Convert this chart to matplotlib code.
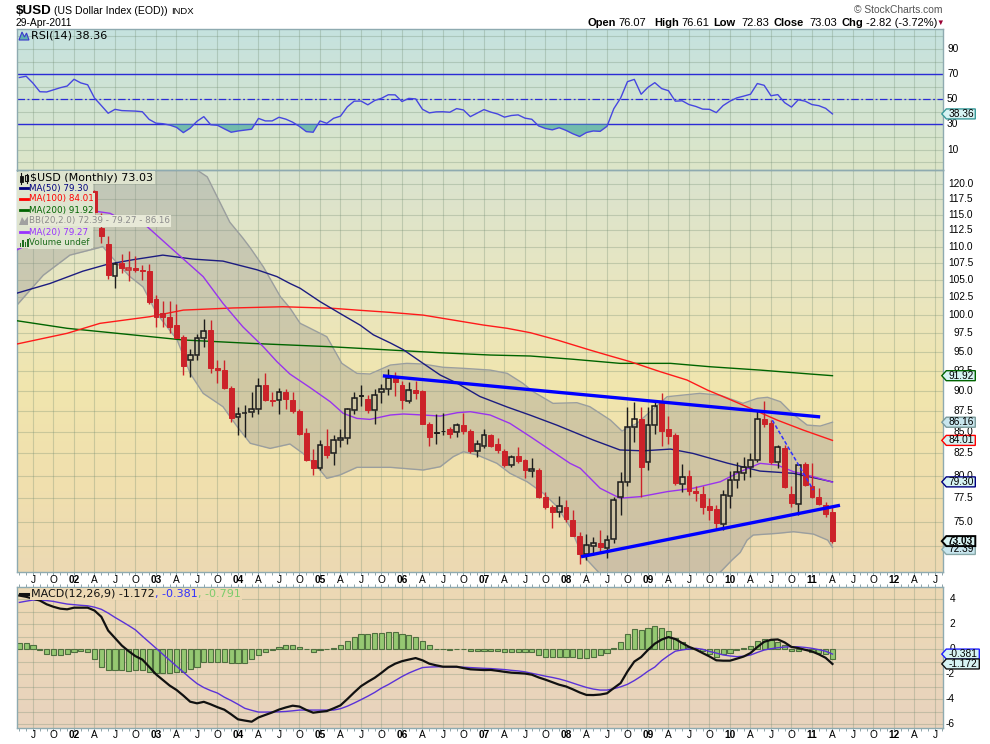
import numpy as np
import pandas as pd
import matplotlib
matplotlib.use("Agg")
import matplotlib.pyplot as plt
from matplotlib.patches import Rectangle, Polygon
from matplotlib.lines import Line2D
from matplotlib.transforms import IdentityTransform
from matplotlib.colors import to_rgb
from matplotlib.ticker import NullLocator, FixedLocator

# ---------------- data (monthly, May 2001 .. Apr 2011) ----------------
months = pd.period_range("2001-05", "2011-04", freq="M")

opens = [115.6, 119.1, 120.4, 117.5, 114.0, 113.6, 115.7, 116.4, 116.8, 120.2,
         119.7, 118.9, 112.9, 110.4, 105.6, 107.5, 106.5, 106.7, 106.4, 106.3,
         102.3, 100.3, 99.8, 98.6, 97.0, 94.0, 94.6, 96.8, 97.9, 92.9,
         92.7, 90.3, 86.8, 87.25, 87.4, 87.7, 90.7, 88.9, 88.9, 89.9,
         88.9, 87.5, 84.9, 81.7, 80.9, 83.4, 82.5, 84.0, 84.3, 87.6,
         89.5, 89.0, 87.6, 89.9, 90.2, 91.9, 90.8, 88.8, 90.1, 90.0,
         85.9, 85.0, 85.15, 85.3, 85.0, 85.8, 85.1, 82.8, 83.4, 84.6,
         83.6, 82.8, 81.2, 82.2, 81.7, 80.5, 80.6, 77.7, 76.6, 76.0,
         76.6, 75.2, 73.6, 71.7, 72.5, 72.8, 72.3, 73.2, 77.6, 79.3,
         85.6, 86.6, 81.5, 85.8, 88.6, 85.4, 84.6, 79.1, 79.9, 78.3,
         78.0, 76.7, 76.4, 74.8, 77.8, 79.5, 80.3, 81.0, 81.8, 86.5,
         86.1, 81.5, 83.1, 78.0, 76.9, 81.3, 78.9, 77.6, 76.8, 76.07]
highs = [119.5, 120.8, 121.0, 117.8, 115.4, 116.4, 117.4, 117.6, 120.5, 120.5,
         119.9, 119.0, 115.3, 111.6, 107.6, 108.8, 109.3, 108.5, 107.2, 107.3,
         102.8, 102.0, 102.0, 101.6, 97.3, 95.4, 97.4, 99.4, 99.3, 94.0,
         94.0, 90.6, 88.0, 88.2, 89.9, 91.6, 92.3, 89.8, 90.3, 90.2,
         89.8, 87.8, 85.5, 83.0, 84.0, 85.3, 84.7, 85.3, 87.9, 89.9,
         90.8, 89.5, 90.2, 90.9, 92.8, 92.4, 91.2, 91.1, 91.3, 90.1,
         86.2, 87.1, 87.3, 85.6, 86.1, 87.3, 85.4, 84.1, 85.4, 84.8,
         84.3, 83.0, 82.3, 83.2, 81.9, 82.0, 80.8, 78.2, 76.8, 77.8,
         77.3, 76.3, 74.0, 73.8, 73.4, 74.2, 73.7, 77.6, 80.4, 88.0,
         88.6, 88.0, 88.0, 88.7, 89.7, 86.9, 84.9, 81.3, 80.6, 78.8,
         78.8, 77.5, 76.8, 78.4, 80.5, 81.5, 82.1, 82.6, 87.5, 88.7,
         86.4, 83.5, 83.5, 78.8, 81.3, 81.5, 81.4, 78.6, 77.1, 76.61]
lows = [115.2, 117.9, 116.7, 113.1, 111.3, 112.9, 114.8, 114.9, 116.4, 118.3,
        117.7, 115.0, 110.6, 105.2, 103.8, 106.1, 104.9, 106.2, 105.0, 101.6,
        98.4, 98.3, 97.5, 96.8, 92.0, 91.7, 94.0, 95.6, 92.3, 91.0,
        90.2, 86.2, 84.6, 84.4, 86.8, 87.1, 88.7, 88.1, 87.1, 87.7,
        87.3, 84.6, 81.6, 80.1, 80.6, 82.0, 81.2, 83.2, 83.6, 87.1,
        88.1, 87.3, 86.0, 88.5, 89.5, 89.4, 87.7, 88.5, 89.0, 85.9,
        83.4, 83.6, 84.7, 84.3, 84.4, 84.8, 82.6, 82.1, 83.1, 83.2,
        82.6, 81.0, 81.0, 81.4, 79.7, 79.8, 77.5, 76.4, 74.4, 75.5,
        75.0, 73.5, 70.7, 71.1, 71.6, 71.9, 71.3, 72.8, 75.7, 78.9,
        83.8, 77.6, 80.6, 84.8, 83.4, 83.6, 79.0, 78.2, 77.9, 77.2,
        75.8, 75.2, 74.2, 74.2, 76.5, 78.6, 79.5, 79.8, 81.5, 85.6,
        81.3, 80.9, 78.6, 76.6, 75.7, 78.9, 77.5, 76.8, 75.5, 72.83]
closes = [119.1, 120.4, 117.5, 114.0, 113.6, 115.7, 116.4, 116.8, 120.2, 119.7,
          118.9, 115.4, 111.6, 105.8, 107.4, 106.8, 106.7, 106.4, 106.3, 101.8,
          99.8, 99.7, 98.4, 96.9, 93.2, 94.6, 96.8, 97.8, 92.9, 92.7,
          90.3, 86.7, 87.2, 87.3, 87.7, 90.6, 88.9, 88.7, 89.9, 89.0,
          87.5, 84.8, 81.7, 80.9, 83.5, 82.3, 84.0, 84.3, 87.8, 89.1,
          89.4, 87.6, 89.5, 90.2, 91.6, 91.1, 88.9, 90.1, 89.7, 86.0,
          84.4, 84.9, 85.1, 84.8, 85.8, 85.1, 82.8, 83.6, 84.6, 83.4,
          82.9, 81.2, 82.1, 81.6, 80.6, 80.7, 77.7, 76.6, 76.0, 76.7,
          75.3, 73.6, 71.7, 72.6, 72.8, 72.4, 73.1, 77.3, 79.3, 85.6,
          86.5, 81.0, 85.8, 88.1, 85.1, 84.5, 79.2, 79.8, 78.3, 78.1,
          76.6, 76.3, 74.9, 77.9, 79.5, 80.4, 81.0, 81.8, 86.6, 86.0,
          81.5, 83.2, 78.7, 77.0, 81.2, 79.0, 77.6, 76.9, 75.85, 73.03]

# overlays (month index, value)
ma50_m = [-0.35, 4.5, 9.3, 12.8, 16.6, 21.0, 25.4, 29.8, 34.8, 37.7, 39.6, 41.1, 44.0, 46.9, 49.9,
          51.8, 54.3, 56.2, 59.1, 61.6, 64.1, 67.4, 71.4, 74.8, 78.7, 84.0, 87.9, 91.3, 95.3, 98.6,
          103.6, 108.4, 113.3, 119.0]
ma50_v = [103.1, 104.5, 106.3, 107.3, 108.0, 108.7, 108.1, 107.8, 106.5, 105.5, 104.5, 103.8, 101.9,
          100.25, 98.6, 97.3, 96.2, 95.3, 93.5, 92.0, 90.95, 89.3, 88.0, 87.0, 85.8, 84.05, 82.9, 82.8,
          83.0, 82.5, 81.4, 80.5, 80.25, 79.30]
ma100_m = [-0.35, 7.0, 11.8, 19.1, 24.0, 31.3, 38.6, 45.9, 49.4, 54.3, 59.1, 64.1, 67.9, 71.4, 74.8,
           78.7, 83.5, 86.5, 89.4, 93.8, 97.7, 100.7, 103.6, 107.0, 110.9, 114.7, 119.0]
ma100_v = [96.06, 97.5, 98.86, 99.78, 100.7, 101.0, 101.17, 100.95, 100.7, 100.38, 100.0, 99.22, 98.63,
           98.18, 97.58, 96.6, 95.26, 94.47, 93.73, 92.43, 91.37, 90.1, 89.07, 87.84, 86.42, 85.23, 84.01]
ma200_m = [-0.35, 7.0, 14.3, 24.0, 33.8, 45.5, 54.3, 61.6, 68.9, 74.8, 81.1, 87.9, 95.3, 101.1, 108.4,
           115.8, 119.0]
ma200_v = [99.22, 98.18, 97.5, 96.6, 96.15, 95.7, 95.26, 94.9, 94.6, 94.47, 94.04, 93.51, 93.51, 93.07,
           92.64, 92.13, 91.92]
ma20_m = [-0.35, 11.4, 13.3, 15.2, 18.7, 22.5, 26.9, 29.8, 32.7, 35.7, 37.7, 39.6, 42.5, 45.5, 47.4,
          49.4, 51.3, 54.3, 56.2, 59.1, 61.6, 64.1, 66.0, 68.9, 71.8, 74.8, 77.7, 80.6, 82.1, 85.0,
          87.9, 90.9, 94.8, 98.6, 102.6, 105.5, 108.4, 110.9, 113.3, 116.2, 119.0]
ma20_v = [109.5, 115.5, 115.2, 114.1, 113.1, 109.5, 105.5, 101.65, 98.4, 95.7, 93.73, 92.13, 90.44,
          88.65, 87.23, 86.62, 86.5, 87.03, 87.15, 87.03, 86.9, 87.31, 87.43, 87.03, 86.02, 84.44, 82.89,
          81.37, 80.81, 78.6, 77.52, 77.69, 78.23, 78.6, 79.32, 80.43, 81.37, 81.18, 80.43, 79.88, 79.27]
bbu_m = [-0.35, 5.0, 11.8, 17.0, 23.0, 26.0, 27.5, 30.8, 32.7, 33.8, 35.7, 38.2, 39.6, 41.1, 42.1, 45.0,
         47.2, 49.4, 51.3, 54.3, 56.7, 59.1, 62.0, 64.9, 68.9, 71.4, 73.7, 75.2, 78.1, 81.6, 83.5, 86.5,
         88.2, 90.4, 94.8, 99.6, 102.6, 105.9, 108.0, 109.5, 111.4, 113.1, 115.3, 117.2, 119.0]
bbu_v = [118.0, 120.5, 121.5, 122.8, 123.2, 122.36, 121.2, 113.8, 111.33, 109.8, 106.96, 102.6, 101.0,
         98.86, 98.4, 97.04, 93.51, 92.22, 92.13, 93.29, 93.51, 93.42, 93.0, 92.87, 92.64, 92.22, 90.95,
         89.9, 88.45, 88.53, 88.04, 86.42, 85.11, 86.02, 89.27, 89.69, 89.44, 88.45, 89.07, 89.2, 88.65,
         87.23, 85.82, 85.7, 86.16]
bbl_m = [-0.35, 3.5, 7.4, 11.4, 12.2, 14.3, 16.2, 18.1, 20.1, 23.1, 25.0, 26.9, 29.8, 31.9, 33.8, 36.7,
         39.6, 41.5, 43.6, 45.0, 46.9, 49.4, 54.3, 59.1, 61.6, 63.5, 65.0, 67.0, 69.9, 71.8, 74.3, 76.7,
         78.7, 80.6, 82.1, 83.1, 85.0, 87.9, 93.8, 99.6, 102.6, 104.3, 105.5, 106.5, 107.4, 110.9, 113.3,
         116.2, 118.3, 119.0]
bbl_v = [101.4, 105.7, 108.7, 109.76, 110.0, 107.5, 105.49, 104.0, 100.25, 96.6, 92.22, 89.69, 88.04,
         85.61, 83.67, 83.08, 83.59, 82.51, 80.99, 79.69, 80.06, 80.92, 80.92, 80.62, 80.99, 82.13, 82.70,
         82.32, 81.37, 80.25, 79.32, 78.05, 76.61, 74.5, 72.06, 71.14, 69.77, 69.2, 68.8, 69.2, 69.96,
         71.14, 71.89, 73.13, 73.65, 73.82, 73.99, 73.75, 73.13, 72.39]

trend_up_m, trend_up_v = [53.2, 117.2], [91.9, 86.8]
trend_lo_m, trend_lo_v = [82.2, 120.1], [71.46, 76.76]
trend_dash_m, trend_dash_v = [110.2, 116.2], [86.4, 78.4]

rsi = [67.3, 68.3, 62.8, 56.0, 55.8, 57.5, 59.2, 60.5, 65.9, 63.0,
       61.5, 51.0, 45.0, 38.9, 42.0, 41.0, 40.8, 40.6, 40.1, 34.0,
       31.0, 30.6, 29.5, 27.7, 23.5, 27.0, 32.5, 36.2, 29.8, 29.3,
       26.5, 23.8, 24.8, 25.5, 26.2, 34.8, 32.8, 32.8, 35.7, 34.2,
       31.8, 28.4, 24.3, 23.8, 32.8, 30.9, 34.9, 36.6, 44.0, 48.5,
       48.6, 45.6, 49.0, 50.8, 53.6, 53.5, 48.2, 50.7, 50.3, 42.0,
       39.2, 40.0, 40.1, 39.7, 42.6, 41.5, 36.2, 39.0, 41.8, 39.8,
       38.3, 35.8, 37.1, 37.6, 35.0, 34.1, 28.8, 26.8, 25.7, 27.4,
       25.3, 22.6, 20.4, 23.6, 24.8, 24.5, 28.5, 42.5, 51.0, 64.0,
       65.8, 54.0, 59.5, 63.2, 58.5, 56.8, 48.5, 48.8, 45.8, 44.3,
       42.2, 42.0, 39.4, 45.0, 48.5, 51.1, 52.5, 54.0, 62.5, 61.1,
       52.8, 53.7, 47.3, 43.8, 49.6, 48.5, 45.8, 44.9, 42.8, 38.36]

macd = [4.3, 4.2, 4.05, 3.9, 3.6, 3.4, 3.25, 3.2, 3.33, 3.33,
        3.33, 3.1, 2.6, 1.5, 0.9, 0.3, -0.15, -0.55, -0.82, -1.4,
        -2.0, -2.45, -2.9, -3.25, -3.7, -4.19, -4.32, -4.2, -4.4, -4.63,
        -4.83, -5.2, -5.6, -5.7, -5.79, -5.45, -5.25, -5.05, -4.82, -4.65,
        -4.51, -4.58, -4.85, -5.07, -5.0, -4.94, -4.72, -4.48, -3.98, -3.45,
        -2.95, -2.6, -2.28, -1.88, -1.45, -1.15, -0.95, -0.82, -0.7, -0.88,
        -1.15, -1.28, -1.39, -1.39, -1.39, -1.5, -1.6, -1.63, -1.66, -1.65,
        -1.72, -1.8, -1.87, -1.9, -1.94, -2.03, -2.25, -2.43, -2.63, -2.83,
        -2.97, -3.2, -3.45, -3.65, -3.66, -3.62, -3.52, -3.1, -2.7, -1.77,
        -0.98, -0.62, -0.05, 0.45, 0.78, 0.98, 0.82, 0.5, 0.2, -0.02,
        -0.3, -0.57, -0.88, -0.91, -0.91, -0.75, -0.58, -0.3, 0.18, 0.6,
        0.76, 0.79, 0.55, 0.19, 0.1, -0.04, -0.17, -0.4, -0.68, -1.172]
signal = [3.75, 3.85, 3.94, 3.92, 3.9, 3.83, 3.72, 3.62, 3.57, 3.52,
          3.48, 3.37, 3.2, 2.9, 2.55, 2.23, 1.9, 1.55, 1.05, 0.57,
          0.09, -0.4, -0.87, -1.35, -1.82, -2.3, -2.74, -3.06, -3.3, -3.5,
          -3.83, -4.1, -4.4, -4.72, -4.88, -5.02, -5.02, -5.01, -5.0, -4.97,
          -4.92, -4.86, -4.86, -4.86, -4.86, -4.86, -4.86, -4.75, -4.55, -4.3,
          -4.03, -3.75, -3.45, -3.1, -2.82, -2.5, -2.18, -1.9, -1.67, -1.46,
          -1.42, -1.4, -1.39, -1.4, -1.42, -1.43, -1.46, -1.49, -1.52, -1.54,
          -1.58, -1.62, -1.68, -1.73, -1.8, -1.92, -2.03, -2.15, -2.25, -2.37,
          -2.52, -2.7, -2.88, -3.05, -3.18, -3.26, -3.26, -3.15, -3.0, -2.8,
          -2.5, -2.15, -1.75, -1.42, -0.9, -0.5, -0.15, -0.05, 0.03, 0.08,
          0.0, -0.17, -0.3, -0.45, -0.53, -0.59, -0.55, -0.46, -0.25, -0.06,
          0.05, 0.13, 0.18, 0.21, 0.2, 0.15, 0.08, -0.03, -0.15, -0.381]
hist = [0.48, 0.48, 0.35, -0.03, -0.35, -0.48, -0.48, -0.4, -0.19, -0.13,
        -0.19, -0.8, -1.44, -1.65, -1.65, -1.65, -1.71, -1.65, -1.65, -1.79,
        -1.87, -1.92, -1.87, -1.79, -1.79, -1.6, -1.44, -0.99, -0.99, -0.99,
        -0.99, -1.07, -1.12, -1.07, -0.8, -0.45, -0.24, -0.05, 0.21, 0.32,
        0.32, 0.16, 0.0, -0.19, -0.05, 0.0, 0.13, 0.32, 0.67, 0.96,
        1.23, 1.23, 1.28, 1.33, 1.39, 1.39, 1.23, 1.15, 0.96, 0.67,
        0.32, 0.05, 0.0, -0.05, 0.0, 0.0, -0.11, -0.11, -0.11, -0.11,
        -0.15, -0.19, -0.19, -0.19, -0.19, -0.19, -0.45, -0.59, -0.59, -0.59,
        -0.59, -0.64, -0.72, -0.72, -0.59, -0.45, -0.32, 0.08, 0.59, 1.23,
        1.63, 1.55, 1.68, 1.87, 1.68, 1.47, 0.88, 0.61, 0.21, 0.0,
        -0.11, -0.37, -0.59, -0.37, -0.27, -0.05, 0.08, 0.27, 0.67, 0.85,
        0.75, 0.59, 0.35, -0.11, -0.11, 0.0, -0.21, -0.27, -0.37, -0.791]

# tick labels shown on the right-hand scales (72.5 and the 0.0 gridline are covered by tags)
price_ticks = [75.0, 77.5, 80.0, 82.5, 85.0, 87.5, 90.0, 92.5, 95.0, 97.5, 100.0,
               102.5, 105.0, 107.5, 110.0, 112.5, 115.0, 117.5, 120.0]
price_grid = [72.5] + price_ticks
rsi_ticks = [90, 70, 50, 30, 10]
macd_ticks = [4, 2, 0, -2, -4, -6]

# ---------------- figure layout ----------------
W, H = 990, 744
fig = plt.figure(figsize=(W / 100, H / 100), dpi=100)
fig.patch.set_facecolor("white")
SANS = ["Liberation Sans", "DejaVu Sans"]
VERD = ["DejaVu Sans"]


def rect(x0, y0, x1, y1):
    return [x0 / W, 1 - y1 / H, (x1 - x0) / W, (y1 - y0) / H]


LEFT, RIGHT = 16.7, 943.3
rsi_rect = rect(LEFT, 29.3, RIGHT, 170.0)
main_rect = rect(LEFT, 170.0, RIGHT, 572.3)
macd_rect = rect(LEFT, 587.3, RIGHT, 727.7)
XL = (-0.385, 135.22)
x = np.arange(len(months))


def grad_bg(r, stops):
    bg = fig.add_axes(r, zorder=-5)
    t = np.linspace(0, 1, 256)
    pos = [s[0] for s in stops]
    cols = np.array([to_rgb(s[1]) for s in stops])
    img = np.stack([np.interp(t, pos, cols[:, k]) for k in range(3)], axis=1)
    bg.imshow(img[:, None, :], aspect="auto", extent=[0, 1, 0, 1], origin="upper",
              interpolation="bilinear")
    bg.set_axis_off()


grad_bg(rsi_rect, [(0, "#c5e2df"), (1, "#dde6c8")])
grad_bg(main_rect, [(0, "#d9e3cf"), (0.3, "#e9e6c0"), (0.55, "#f1e5ad"), (0.8, "#f0dfae"), (1, "#ecd9b3")])
grad_bg(macd_rect, [(0, "#edd9b4"), (1, "#e8d3be")])

quarters = [q for q in range(2, 136, 3)]
GRIDC = "#6f8a70"
SPINE = "#8eaab0"


def month_label(q):
    mo = (q + 4) % 12 + 1
    yr = 2001 + (q + 4) // 12
    if mo == 1:
        return f"{yr % 100:02d}", True
    return {4: "A", 7: "J", 10: "O"}[mo], False


def setup(ax):
    ax.patch.set_visible(False)
    ax.set_xlim(*XL)
    for s in ax.spines.values():
        s.set_color(SPINE)
        s.set_linewidth(1.0)
    ax.xaxis.set_major_locator(NullLocator())
    ax.yaxis.set_major_locator(NullLocator())
    ax.yaxis.set_minor_locator(NullLocator())
    ax.xaxis.set_minor_locator(NullLocator())
    ax.tick_params(which="both", left=False, right=False, bottom=False, top=False,
                   labelleft=False, labelbottom=False)
    for q in quarters:
        yearline = (q + 4) % 12 == 8
        ax.axvline(q, color=GRIDC, alpha=0.5 if yearline else 0.3, lw=0.8, zorder=0.5)


def xlabels(ax, off_px, minor_top=False):
    ax.xaxis.set_minor_locator(FixedLocator(list(range(0, 136))))
    ax.tick_params(which="minor", bottom=True, top=minor_top, length=2, width=0.7,
                   color="#8ea4aa", direction="out")
    for q in quarters:
        s, bold = month_label(q)
        ax.annotate(s, xy=(q, 0), xycoords=("data", "axes fraction"),
                    xytext=(0, -off_px * 0.72), textcoords="offset points",
                    ha="center", va="center", fontsize=7.3, family=SANS,
                    fontweight="bold" if bold else "normal", annotation_clip=False)


# ---------------- RSI panel ----------------
ax_r = fig.add_axes(rsi_rect)
setup(ax_r)
ax_r.set_ylim(-6.2, 105.6)
for v in range(0, 101, 10):
    ax_r.axhline(v, color=GRIDC, alpha=0.3, lw=0.8, zorder=0.5)
ax_r.axhline(70, color="#2b2bd6", lw=1.0, zorder=2)
ax_r.axhline(30, color="#2b2bd6", lw=1.0, zorder=2)
ax_r.axhline(50, color="#2b2bd6", lw=0.9, ls=(0, (6, 2, 1.5, 2)), zorder=2)
rsi_a = np.array(rsi)
ax_r.fill_between(x, rsi_a, 30, where=rsi_a < 30, interpolate=True, color="#62b5a8", alpha=0.85,
                  lw=0, zorder=2.5)
ax_r.plot(x, rsi_a, color="#4646e0", lw=1.0, zorder=3)
for v in rsi_ticks:
    ax_r.annotate(str(v), xy=(1, v), xycoords=("axes fraction", "data"), xytext=(2.7, 0),
                  textcoords="offset points", ha="left", va="center", fontsize=7.3,
                  family=SANS, annotation_clip=False)

# ---------------- price panel ----------------
ax_m = fig.add_axes(main_rect)
ax_m.set_yscale("log")
setup(ax_m)
ax_m.set_ylim(69.93, 122.36)
for v in price_grid:
    ax_m.axhline(v, color=GRIDC, alpha=0.3, lw=0.8, zorder=0.5)

# Bollinger band
grid_m = np.linspace(-0.35, 119.0, 600)
up_i = np.exp(np.interp(grid_m, bbu_m, np.log(bbu_v)))
lo_i = np.exp(np.interp(grid_m, bbl_m, np.log(bbl_v)))
ax_m.fill_between(grid_m, lo_i, up_i, color="#8f8f8f", alpha=0.33, lw=0, zorder=1)
ax_m.plot(bbu_m, bbu_v, color="#9a9e9e", lw=1.0, zorder=1.5)
ax_m.plot(bbl_m, bbl_v, color="#9a9e9e", lw=1.0, zorder=1.5)

ax_m.plot(ma200_m, ma200_v, color="#006400", lw=1.0, zorder=3)
ax_m.plot(ma100_m, ma100_v, color="#ff1a1a", lw=1.0, zorder=3)
ax_m.plot(ma50_m, ma50_v, color="#1c1c80", lw=1.0, zorder=3)
ax_m.plot(ma20_m, ma20_v, color="#9933ee", lw=1.0, zorder=3)

RED, BLK = "#cc2229", "#1c1c1c"
bw = 0.72
for i in range(len(closes)):
    o, h, l, c = opens[i], highs[i], lows[i], closes[i]
    prev = closes[i - 1] if i > 0 else o
    col = RED if c < prev else BLK
    top, bot = max(o, c), min(o, c)
    ax_m.plot([i, i], [top, h], color=col, lw=1.0, solid_capstyle="butt", zorder=4)
    ax_m.plot([i, i], [l, bot], color=col, lw=1.0, solid_capstyle="butt", zorder=4)
    if c >= o:
        ax_m.add_patch(Rectangle((i - bw / 2, bot), bw, top - bot, fill=False, edgecolor=col,
                                 lw=1.1, zorder=4.5))
    else:
        ax_m.add_patch(Rectangle((i - bw / 2, bot), bw, top - bot, facecolor=col, edgecolor=col,
                                 lw=0.7, zorder=4.5))

ax_m.plot(trend_up_m, trend_up_v, color="#0000ff", lw=2.4, solid_capstyle="butt", zorder=6)
ax_m.plot(trend_lo_m, trend_lo_v, color="#0000ff", lw=2.4, solid_capstyle="butt", zorder=6)
ax_m.plot(trend_dash_m, trend_dash_v, color="#3030ff", lw=1.1, ls=(0, (2.5, 1.5)), zorder=6)

for v in price_ticks:
    ax_m.annotate(f"{v:.1f}", xy=(1, v), xycoords=("axes fraction", "data"), xytext=(21.4, 0),
                  textcoords="offset points", ha="right", va="center", fontsize=7.3,
                  family=SANS, annotation_clip=False)
xlabels(ax_m, 7.7)

# ---------------- MACD panel ----------------
ax_c = fig.add_axes(macd_rect)
setup(ax_c)
ax_c.set_ylim(-6.27, 4.96)
for v in range(-6, 5):
    ax_c.axhline(v, color=GRIDC, alpha=0.3, lw=0.8, zorder=0.5)
ax_c.bar(x, hist, width=0.75, color="#95c872", edgecolor="#4f6f3f", linewidth=0.8, zorder=2)
ax_c.plot(x, signal, color="#5a32d8", lw=1.0, zorder=3)
ax_c.plot(x, macd, color="#111111", lw=1.6, zorder=3.5)
for v in macd_ticks:
    ax_c.annotate(str(v), xy=(1, v), xycoords=("axes fraction", "data"), xytext=(8.4, 0),
                  textcoords="offset points", ha="right", va="center", fontsize=7.3,
                  family=SANS, annotation_clip=False)
xlabels(ax_c, 7.3, minor_top=True)

# ---------------- figure-level text, legends and tags ----------------
ID = IdentityTransform()
renderer = fig.canvas.get_renderer()


def ftext(xp, yp, s, size, color="black", weight="normal", family=SANS, ha="left", va="center", **kw):
    return fig.text(xp / W, 1 - yp / H, s, fontsize=size, color=color, fontweight=weight,
                    family=family, ha=ha, va=va, **kw)


def seq(xp, yp, pieces, size, family=VERD, bbox_fc=None):
    for s, col in pieces:
        kw = {}
        if bbox_fc:
            kw["bbox"] = dict(boxstyle="square,pad=0.12", fc=bbox_fc, ec="none")
        t = ftext(xp, yp, s, size, color=col, family=family, zorder=12, **kw)
        xp += t.get_window_extent(renderer=renderer).width


def poly(pts, **kw):
    p = Polygon([(a, H - b) for a, b in pts], closed=True, transform=ID, **kw)
    fig.add_artist(p)


def line(pts, **kw):
    fig.add_artist(Line2D([a for a, b in pts], [H - b for a, b in pts], transform=ID, **kw))


# header
ftext(15.5, 11, "$USD", 9.6, weight="bold")
ftext(53.5, 11.5, "(US Dollar Index (EOD))", 7.6)
ftext(171, 11.5, "INDX", 6.8)
ftext(16, 23.5, "29-Apr-2011", 7.4)
ftext(943, 10, "\u00a9 StockCharts.com", 7.4, color="#555555", ha="right")
for s, xp, b in [("Open", 588, True), ("76.07", 618, False), ("High", 654, True), ("76.61", 681, False),
                 ("Low", 713, True), ("72.83", 741, False), ("Close", 773, True), ("73.03", 809, False),
                 ("Chg", 842, True), ("-2.82 (-3.72%)", 866, False)]:
    ftext(xp, 23.5, s, 8, weight="bold" if b else "normal")
ftext(936, 23.5, "\u25bc", 5.5, color="#990033")

# RSI legend
poly([(19, 40), (22, 32), (24.5, 37), (26.5, 33), (29, 40)], fc="#5fb0b0", ec="#3b3bcc", lw=0.8, zorder=12)
ftext(31, 36, "RSI(14) 38.36", 8, family=VERD, zorder=12)

# price legend
LEG_BG = "#dfe4cf"
fig.add_artist(Rectangle((17.3, H - 248), 76, 76, transform=ID, fc=LEG_BG, ec="none", zorder=11))
ftext(30.5, 177.7, "$USD (Monthly) 73.03", 8, family=VERD, zorder=12,
      bbox=dict(boxstyle="square,pad=0.12", fc=LEG_BG, ec="none"))
fig.add_artist(Rectangle((19.5, H - 182), 3, 6, transform=ID, fc="#111111", ec="#111111", lw=0.6, zorder=13))
fig.add_artist(Rectangle((25, H - 181), 3, 6, transform=ID, fc="none", ec="#111111", lw=0.8, zorder=13))
line([(21, 173), (21, 184)], color="#111111", lw=0.8, zorder=13)
line([(26.5, 173.5), (26.5, 183)], color="#111111", lw=0.8, zorder=13)
rows = [("MA(50) 79.30", "#00007f", 188.3), ("MA(100) 84.01", "#ff0000", 199.0),
        ("MA(200) 91.92", "#006400", 210.0), ("BB(20,2.0) 72.39 - 79.27 - 86.16", "#8c8c8c", 221.0),
        ("MA(20) 79.27", "#9933ff", 232.3), ("Volume undef", "#1e6e1e", 242.7)]
for s, col, yp in rows:
    fc = "#e7e9d7" if s.startswith("BB") else LEG_BG
    ftext(29.2, yp, s, 6.3, color=col, family=VERD, zorder=12,
          bbox=dict(boxstyle="square,pad=0.15", fc=fc, ec="none"))
    if s.startswith("BB"):
        poly([(19, yp + 4), (22, yp - 4), (24.5, yp), (28, yp - 4.5), (28, yp + 4)], fc="#a0a0a0",
             ec="none", zorder=13)
    elif s.startswith("Volume"):
        for bx, bh in [(19.5, 4), (22, 7), (24.5, 5), (27, 8)]:
            fig.add_artist(Rectangle((bx, H - (yp + 4)), 1.8, bh, transform=ID, fc=col, ec="none", zorder=13))
    else:
        line([(19.5, yp), (28.2, yp)], color=col, lw=2.0, zorder=13)

# MACD legend
line([(20, 594), (28, 594)], color="#111111", lw=2.2, zorder=13)
seq(31.5, 594, [("MACD(12,26,9) -1.172", "#111111"), (", -0.381", "#3030ff"), (", -0.791", "#7ccc6c")],
    8, bbox_fc="#edd9b4")


def tag(ax, val, label, ec, fc="#d7f3f3", bold=False, width=29, lw=1.0, dy=0.0):
    xd = ax.transAxes.transform((1, 0))[0]
    yd = ax.transData.transform((0, val))[1] + dy
    hh = 5.0
    pts = [(xd - 1.5, yd), (xd + 3, yd + hh), (xd + 3 + width, yd + hh), (xd + 3 + width, yd - hh),
           (xd + 3, yd - hh)]
    fig.add_artist(Polygon(pts, closed=True, fc=fc, ec=ec, lw=lw, transform=ID, zorder=20))
    fig.text(xd + 4.8, yd, label, transform=ID, fontsize=7.3, family=SANS,
             fontweight="bold" if bold else "normal", va="center", ha="left", zorder=21)


tag(ax_r, rsi[-1], f"{rsi[-1]:.2f}", "#3a9a9a")
tag(ax_m, 91.92, "91.92", "#006400")
tag(ax_m, 86.16, "86.16", "#7a9a9a", fc="#c8e6ee")
tag(ax_m, 84.01, "84.01", "#ff0000")
tag(ax_m, 79.30, "79.30", "#000080")
tag(ax_m, 72.39, "72.39", "#88a8a8", fc="#c8e6ee", dy=-2.0)
tag(ax_m, closes[-1], f"{closes[-1]:.2f}", "#000000", bold=True, lw=1.4)
tag(ax_c, signal[-1], f"{signal[-1]:.3f}", "#2020ff", width=33)
tag(ax_c, macd[-1], f"{macd[-1]:.3f}", "#111111", width=33)

fig.savefig("out.png", dpi=100)
